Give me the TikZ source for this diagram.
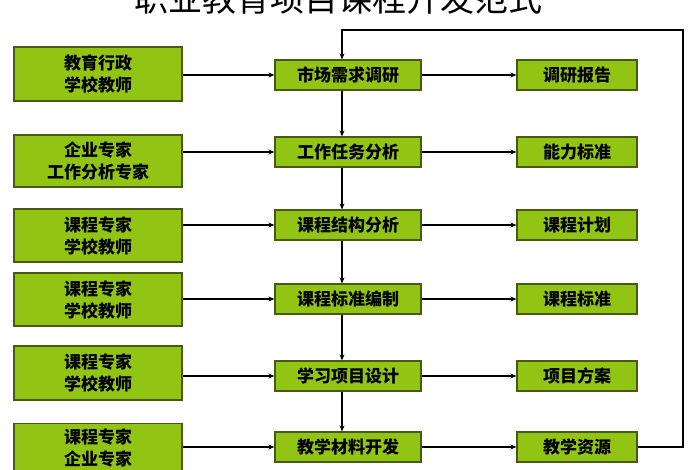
\documentclass[tikz,border=0pt]{standalone}
\usepackage{fontspec}
\newfontfamily\cjk{Noto Sans CJK SC}
\usetikzlibrary{arrows.meta}
\definecolor{gfill}{RGB}{146,196,20}
\definecolor{gline}{RGB}{70,90,20}
\begin{document}
\begin{tikzpicture}[x=1pt,y=-1pt,
  box/.style={draw=gline,line width=1.2pt,fill=gfill,font=\cjk\bfseries\fontsize{17}{22}\selectfont,align=center,inner sep=0pt},
  arr/.style={-{Stealth[length=6pt,width=5pt]},line width=1.4pt}]
\clip (0,0) rectangle (700,470);
\fill[white] (0,0) rectangle (700,470);
\node[font=\cjk\fontsize{34}{38}\selectfont] (t) at (338,-1) {职业教育项目课程开发范式};
\node[box,minimum width=168,minimum height=54] (L1) at (98,74) {教育行政\\学校教师};
\node[box,minimum width=168,minimum height=52] (L2) at (98,161) {企业专家\\工作分析专家};
\node[box,minimum width=168,minimum height=53] (L3) at (98,235.5) {课程专家\\学校教师};
\node[box,minimum width=168,minimum height=53] (L4) at (98,299.5) {课程专家\\学校教师};
\node[box,minimum width=168,minimum height=54] (L5) at (98,373) {课程专家\\学校教师};
\node[box,minimum width=168,minimum height=70,anchor=north] (L6) at (98,423) {课程专家\\企业专家\\\phantom{课}};
\foreach \i/\y/\c/\r in {1/75/市场需求调研/调研报告,2/152/工作任务分析/能力标准,3/225/课程结构分析/课程计划,4/299/课程标准编制/课程标准,5/376/学习项目设计/项目方案,6/447/教学材料开发/教学资源}{
 \node[box,minimum width=146,minimum height=30] (C\i) at (348,\y) {\c};
 \node[box,minimum width=120,minimum height=30] (R\i) at (577,\y) {\r};
 \draw[arr] (C\i.east) -- (R\i.west);
 \draw[arr] (L\i.east|-C\i) -- (C\i.west);
}
\foreach \a/\b in {1/2,2/3,3/4,4/5,5/6}{
 \draw[arr] (342,0|-C\a.south) -- (342,0|-C\b.north);
}
\coordinate (k1) at (683,447);
\coordinate (k2) at (683,30);
\coordinate (k3) at (342,30);
\draw[arr] (R6.east) -- (k1) -- (k2) -- (k3) -- (342,0|-C1.north);
\end{tikzpicture}
\end{document}
